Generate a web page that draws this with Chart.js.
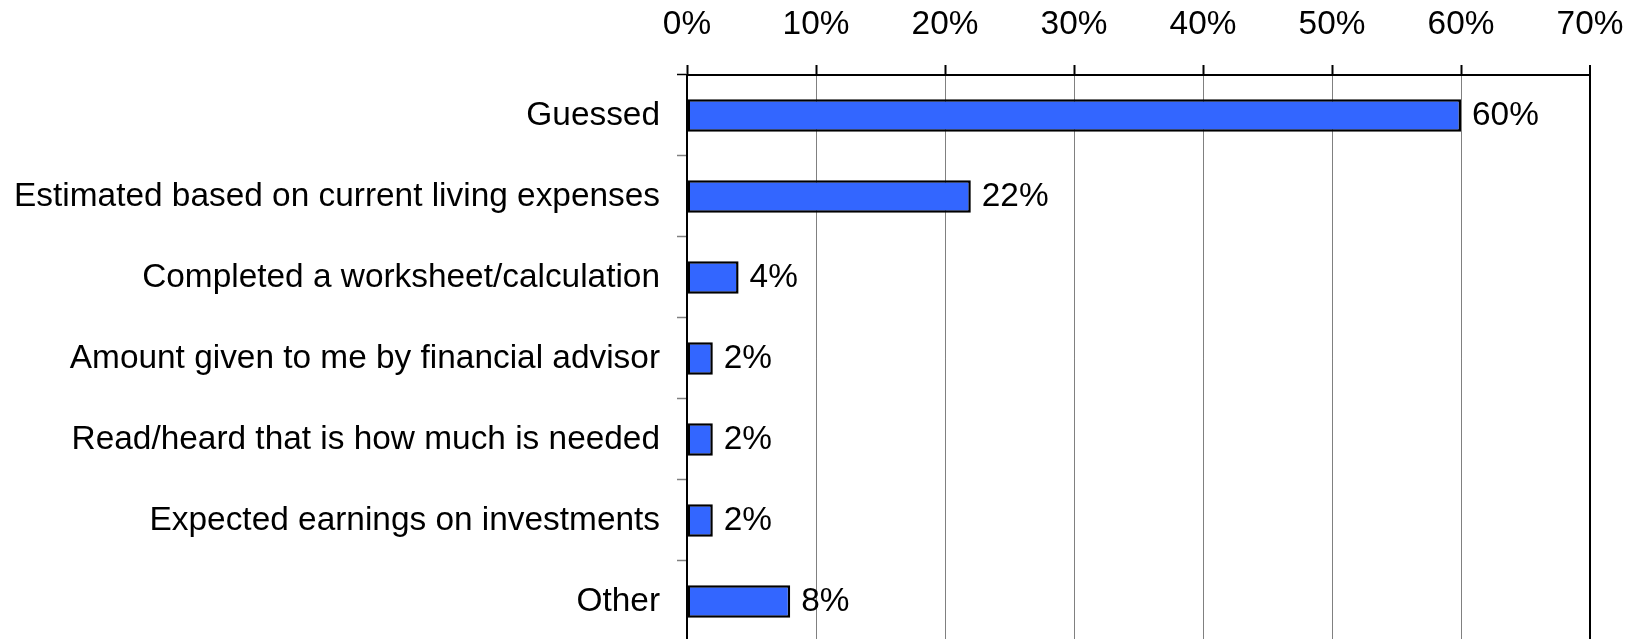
<!DOCTYPE html>
<html>
<head>
<meta charset="utf-8">
<script src="https://cdn.jsdelivr.net/npm/chart.js@4.4.1/dist/chart.umd.min.js"></script>
<style>
  html, body { margin: 0; padding: 0; background: #fff; overflow: hidden; }
  canvas { display: block; }
</style>
</head>
<body>
<canvas id="c" width="1629" height="679" style="width:1629px;height:679px"></canvas>
<script>
const categories = [
  'Guessed',
  'Estimated based on current living expenses',
  'Completed a worksheet/calculation',
  'Amount given to me by financial advisor',
  'Read/heard that is how much is needed',
  'Expected earnings on investments',
  'Other'
];
const values = [60, 22, 4, 2, 2, 2, 8];
const axisMin = 0;
const axisMax = 70;
const axisStep = 10;

const FONT = "'Liberation Sans', Arial, sans-serif";
const FONT_SIZE = 33.4;

const dataLabels = {
  id: 'dataLabels',
  afterDatasetsDraw(chart) {
    const ctx = chart.ctx;
    const meta = chart.getDatasetMeta(0);
    ctx.save();
    ctx.font = FONT_SIZE + 'px ' + FONT;
    ctx.fillStyle = '#000';
    ctx.textAlign = 'left';
    ctx.textBaseline = 'middle';
    meta.data.forEach((bar, i) => {
      ctx.fillText(values[i] + '%', bar.x + 11, bar.y);
    });
    ctx.restore();
  }
};

new Chart(document.getElementById('c'), {
  type: 'bar',
  data: {
    labels: categories,
    datasets: [{
      data: values,
      backgroundColor: '#3366FF',
      borderColor: '#000000',
      borderWidth: 2.5,
      borderSkipped: false,
      barPercentage: 0.4,
      categoryPercentage: 1.0
    }]
  },
  options: {
    indexAxis: 'y',
    responsive: false,
    maintainAspectRatio: false,
    animation: false,
    layout: { padding: { left: 0, right: 39, top: 0, bottom: 3 } },
    plugins: {
      legend: { display: false },
      tooltip: { enabled: false }
    },
    scales: {
      x: {
        position: 'top',
        min: axisMin,
        max: axisMax,
        afterFit(scale) {
          scale.height = 75;
          scale.paddingLeft = 0;
          scale.paddingRight = 0;
        },
        ticks: {
          stepSize: axisStep,
          padding: 20,
          color: '#000',
          font: { family: FONT, size: FONT_SIZE },
          callback: v => v + '%'
        },
        grid: {
          color: ctx => (ctx.tick && ctx.tick.value === axisMax) ? '#000000' : '#808080',
          lineWidth: ctx => (ctx.tick && ctx.tick.value === axisMax) ? 2 : 1,
          tickColor: '#000000',
          tickWidth: 2,
          tickLength: 10,
          drawTicks: true
        },
        border: { display: true, color: '#000000', width: 2 }
      },
      y: {
        afterFit(scale) { scale.width = 687; },
        ticks: {
          padding: 17,
          color: '#000',
          font: { family: FONT, size: FONT_SIZE }
        },
        grid: {
          offset: true,
          drawOnChartArea: false,
          drawTicks: true,
          tickLength: 10,
          tickColor: ctx => ctx.index === 0 ? '#000000' : '#808080',
          tickWidth: 1.5
        },
        border: { display: true, color: '#000000', width: 2 }
      }
    }
  },
  plugins: [dataLabels]
});
</script>
</body>
</html>
